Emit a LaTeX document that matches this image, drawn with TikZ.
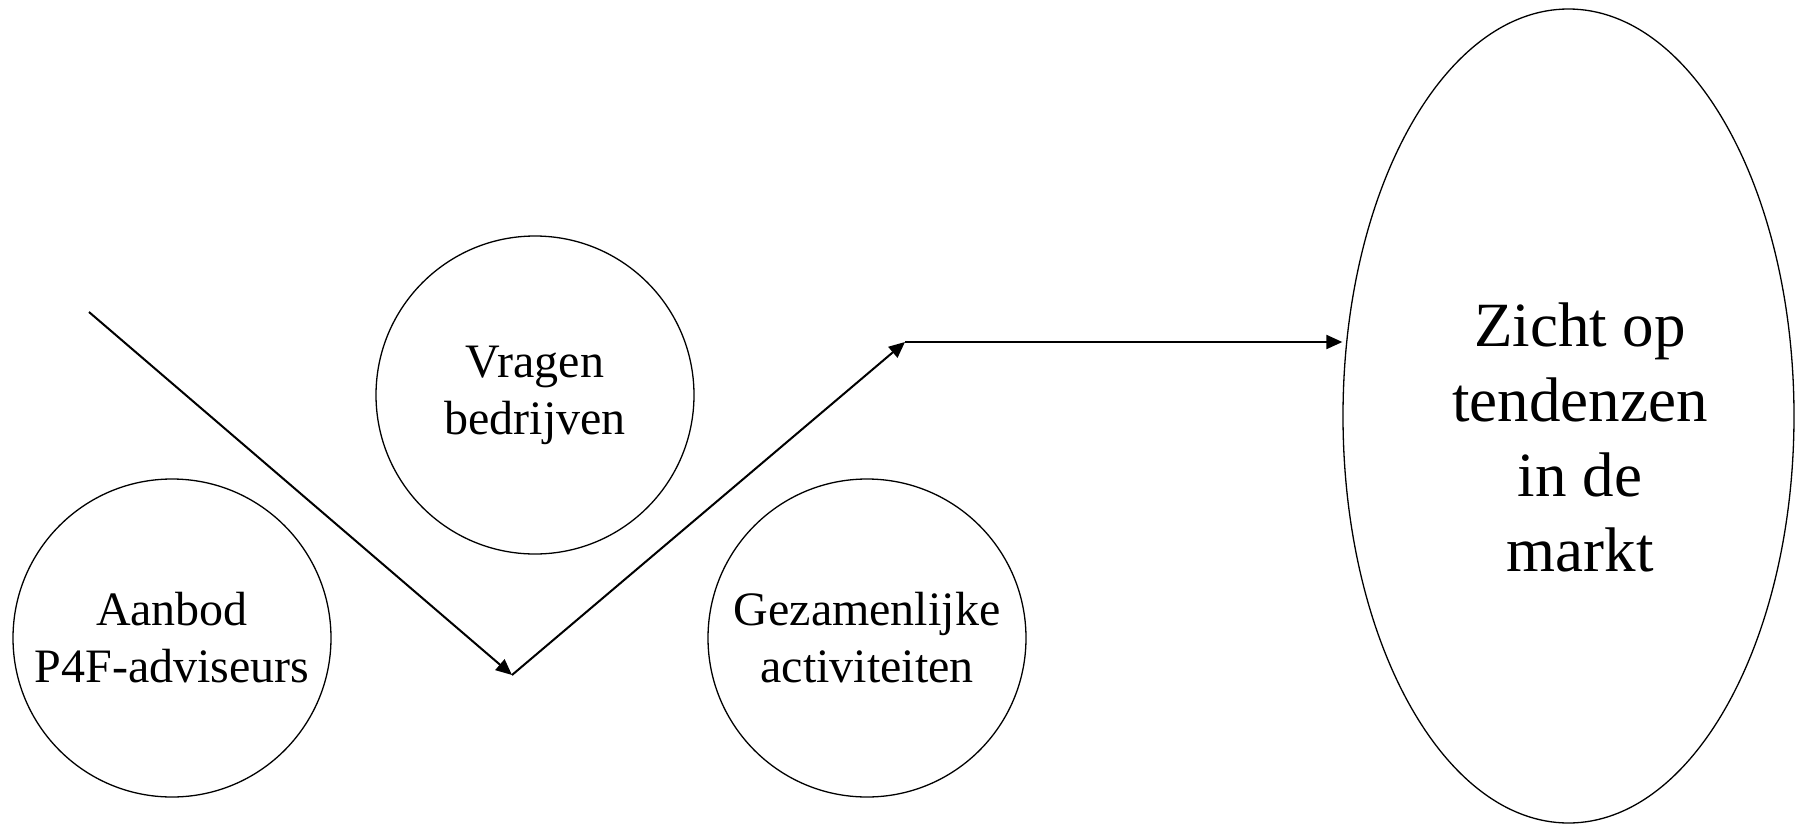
\documentclass[tikz,border=0pt]{standalone}
\usepackage{fontspec}
\setmainfont{Liberation Serif}
\usetikzlibrary{arrows.meta,shapes.geometric}
\tikzset{
  bubble/.style={draw, line width=0.65pt, circle, minimum size=159pt, inner sep=0pt,
    align=center, font=\fontsize{24pt}{28.5pt}\selectfont},
  bigoval/.style={draw, line width=0.65pt, ellipse, minimum width=225.5pt, minimum height=407pt, inner sep=0pt},
  bigtext/.style={align=center, inner sep=0pt, font=\fontsize{31.5pt}{37.5pt}\selectfont},
  flow/.style={line width=1pt, -{Triangle[length=8pt,width=7pt]}}
}
\begin{document}
\begin{tikzpicture}[x=0.5pt,y=-0.5pt]
\useasboundingbox (0,0) rectangle (1795,825);
\node[bubble] (aanbod) at (172,638) {Aanbod\\P4F-adviseurs};
\node[bubble] (vragen) at (535,395) {Vragen\\bedrijven};
\node[bubble] (gezamenlijk) at (867,638) {Gezamenlijke\\activiteiten};
\node[bigoval] (zicht) at (1568.5,416) {};
\node[bigtext] (zichttext) at (1580,437) {Zicht op\\tendenzen\\in de\\markt};
\coordinate (start) at (89,312);
\coordinate (low) at (512,675);
\coordinate (high) at (905,342);
\draw[flow] (start) -- (low);
\draw[flow] (low) -- (high);
\draw[flow] (high) -- (high -| zicht.west);
\end{tikzpicture}
\end{document}
